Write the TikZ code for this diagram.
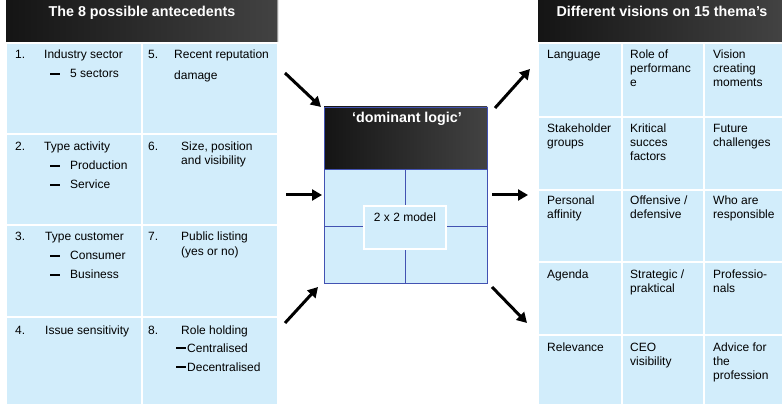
\documentclass[tikz,border=0pt]{standalone}
\usepackage{fontspec}
\setmainfont{Liberation Sans}
\usetikzlibrary{arrows.meta}
\definecolor{cellblue}{RGB}{210,237,251}
\definecolor{gridblue}{RGB}{66,82,178}
% short thick bar used as list marker
\newcommand\bardash{\rule[3.4pt]{9.5pt}{1.9pt}}
\begin{document}
\begin{tikzpicture}[x=1pt,y=-1pt,
  cell/.style={fill=cellblue,draw=white,line width=1.5pt},
  headshade/.style={left color=black!92,right color=black!74},
  txt/.style={anchor=base west,inner sep=0pt,font=\fontsize{12}{14}\selectfont},
  ttl/.style={anchor=base,inner sep=0pt,font=\fontsize{14.3}{16}\selectfont\bfseries,text=white},
  bigarrow/.style={line width=3pt,-{Triangle[length=10pt,width=11pt]}}]
\useasboundingbox (0,0) rectangle (782,406);

% ---------- left table: antecedents ----------
\shade[headshade] (6,0) rectangle (278,43);
\draw[black!40,line width=1.5pt] (277.5,0) -- (277.5,43);
\foreach \ya/\yb in {43/134,134/225,225/317,317/405}{
  \draw[cell] (6,\ya) rectangle (142,\yb);
  \draw[cell] (142,\ya) rectangle (278,\yb);
}
\node[ttl] (lt) at (142,17) {The 8 possible antecedents};

\node[txt] (n1)  at (15,59)  {1.};
\node[txt] (t1)  at (44,59)  {Industry sector};
\node[txt] (t1a) at (50,78)  {\bardash\hspace{10.5pt}5 sectors};
\node[txt] (n5)  at (148,59) {5.};
\node[txt] (t5)  at (174,59) {Recent reputation};
\node[txt] (t5a) at (174,80) {damage};

\node[txt] (n2)  at (15,151)  {2.};
\node[txt] (t2)  at (44,151)  {Type activity};
\node[txt] (t2a) at (50,170)  {\bardash\hspace{10.5pt}Production};
\node[txt] (t2b) at (50,189)  {\bardash\hspace{10.5pt}Service};
\node[txt] (n6)  at (148,151) {6.};
\node[txt] (t6)  at (181,151) {Size, position};
\node[txt] (t6a) at (181,165) {and visibility};

\node[txt] (n3)  at (15,241)  {3.};
\node[txt] (t3)  at (45,241)  {Type customer};
\node[txt] (t3a) at (50,260)  {\bardash\hspace{10.5pt}Consumer};
\node[txt] (t3b) at (50,279)  {\bardash\hspace{10.5pt}Business};
\node[txt] (n7)  at (148,241) {7.};
\node[txt] (t7)  at (181,241) {Public listing};
\node[txt] (t7a) at (181,255) {(yes or no)};

\node[txt] (n4)  at (15,334)  {4.};
\node[txt] (t4)  at (45,334)  {Issue sensitivity};
\node[txt] (n8)  at (148,334) {8.};
\node[txt] (t8)  at (181,334) {Role holding};
\node[txt] (t8a) at (176,352) {\bardash\hspace{1.5pt}Centralised};
\node[txt] (t8b) at (176,371) {\bardash\hspace{1.5pt}Decentralised};

% ---------- centre: dominant logic 2x2 model ----------
\shade[headshade] (324,107) rectangle (487,169);
\fill[cellblue] (324,169) rectangle (487,283);
\draw[gridblue,line width=0.8pt] (405,169) -- (405,283);
\draw[gridblue,line width=0.8pt] (324,226) -- (487,226);
\draw[gridblue,line width=0.8pt] (324,107) rectangle (487,283);
\draw[gridblue,line width=0.8pt] (324,169) -- (487,169);
\draw[cell] (364,206) rectangle (446,249);
\node[ttl] (dl) at (407,123) {‘dominant logic’};
\node[txt,anchor=base] (mdl) at (405,222) {2 x 2 model};

% ---------- right table: 15 themes ----------
\shade[headshade] (538,0) rectangle (782,43);
\foreach \ya/\yb in {43/117,117/190,190/262,262/335,335/405}{
  \draw[cell] (538,\ya) rectangle (622,\yb);
  \draw[cell] (622,\ya) rectangle (704,\yb);
  \draw[cell] (704,\ya) rectangle (784,\yb);
}
\node[ttl] (rt) at (662,17) {Different visions on 15 thema’s};

\node[txt] (r11)  at (547,59) {Language};
\node[txt] (r12)  at (630,59) {Role of};
\node[txt] (r12a) at (630,73) {performanc};
\node[txt] (r12b) at (630,87) {e};
\node[txt] (r13)  at (713,59) {Vision};
\node[txt] (r13a) at (713,73) {creating};
\node[txt] (r13b) at (713,87) {moments};

\node[txt] (r21)  at (547,133) {Stakeholder};
\node[txt] (r21a) at (547,147) {groups};
\node[txt] (r22)  at (630,133) {Kritical};
\node[txt] (r22a) at (630,147) {succes};
\node[txt] (r22b) at (630,161) {factors};
\node[txt] (r23)  at (713,133) {Future};
\node[txt] (r23a) at (713,147) {challenges};

\node[txt] (r31)  at (547,205) {Personal};
\node[txt] (r31a) at (547,219) {affinity};
\node[txt] (r32)  at (630,205) {Offensive /};
\node[txt] (r32a) at (630,219) {defensive};
\node[txt] (r33)  at (713,205) {Who are};
\node[txt] (r33a) at (713,219) {responsible};

\node[txt] (r41)  at (547,278) {Agenda};
\node[txt] (r42)  at (630,278) {Strategic /};
\node[txt] (r42a) at (630,292) {praktical};
\node[txt] (r43)  at (713,278) {Professio-};
\node[txt] (r43a) at (713,292) {nals};

\node[txt] (r51)  at (547,351) {Relevance};
\node[txt] (r52)  at (630,351) {CEO};
\node[txt] (r52a) at (630,365) {visibility};
\node[txt] (r53)  at (713,351) {Advice for};
\node[txt] (r53a) at (713,365) {the};
\node[txt] (r53b) at (713,379) {profession};

% ---------- arrows into and out of the model ----------
\coordinate (inA) at (285,73);   \coordinate (inAt) at (321,107);
\coordinate (inB) at (286,195);  \coordinate (inBt) at (322,195);
\coordinate (inC) at (285,323);  \coordinate (inCt) at (318,287);
\coordinate (outA) at (495,108); \coordinate (outAt) at (530,69);
\coordinate (outB) at (492,195); \coordinate (outBt) at (528,195);
\coordinate (outC) at (492,287); \coordinate (outCt) at (527,323);
\draw[bigarrow] (inA) -- (inAt);
\draw[bigarrow] (inB) -- (inBt);
\draw[bigarrow] (inC) -- (inCt);
\draw[bigarrow] (outA) -- (outAt);
\draw[bigarrow] (outB) -- (outBt);
\draw[bigarrow] (outC) -- (outCt);
\end{tikzpicture}
\end{document}
